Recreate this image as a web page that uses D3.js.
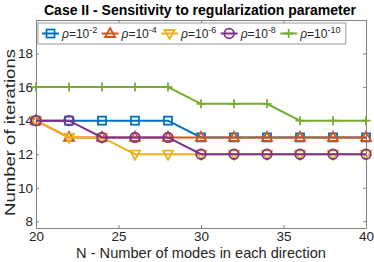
<!DOCTYPE html>
<html>
<head>
<meta charset="utf-8">
<script src="https://cdn.jsdelivr.net/npm/d3@7"></script>
<style>
  body { margin: 0; background: #fff; }
  text { font-family: "Liberation Sans", Arial, sans-serif; }
</style>
</head>
<body>
<div id="chart"></div>
<script>
// N values along the x axis
var modes = [20, 22, 24, 26, 28, 30, 32, 34, 36, 38, 40];

var rho2  = [14, 14, 14, 14, 14, 13, 13, 13, 13, 13, 13];
var rho4  = [14, 13, 13, 13, 13, 13, 13, 13, 13, 13, 13];
var rho6  = [14, 13, 13, 12, 12, 12, 12, 12, 12, 12, 12];
var rho8  = [14, 14, 13, 13, 13, 12, 12, 12, 12, 12, 12];
var rho10 = [16, 16, 16, 16, 16, 15, 15, 15, 14, 14, 14];

var exponents = ["-2", "-4", "-6", "-8", "-10"];
var xTicks = [20, 25, 30, 35, 40];
var yTicks = [8, 10, 12, 14, 16, 18];

var series = [
  { exp: exponents[0], values: rho2,  color: "#0072BD", marker: "square" },
  { exp: exponents[1], values: rho4,  color: "#D95319", marker: "triangleUp" },
  { exp: exponents[2], values: rho6,  color: "#EDB120", marker: "triangleDown" },
  { exp: exponents[3], values: rho8,  color: "#7E2F8E", marker: "circle" },
  { exp: exponents[4], values: rho10, color: "#77AC30", marker: "plus" }
];

var width = 374, height = 262;
var margin = { top: 20, right: 8, bottom: 34, left: 36 };
var w = width - margin.left - margin.right;
var h = height - margin.top - margin.bottom;

var svg = d3.select("#chart").append("svg")
  .attr("width", width)
  .attr("height", height);

var g = svg.append("g")
  .attr("transform", "translate(" + margin.left + "," + margin.top + ")");

var x = d3.scaleLinear().domain([20, 40]).range([0, w]);
var y = d3.scaleLinear().domain([7.6, 20]).range([h, 0]);

// title
svg.append("text")
  .attr("x", margin.left + w / 2 - 1)
  .attr("y", 15)
  .attr("text-anchor", "middle")
  .style("font-size", "14px")
  .style("font-weight", "bold")
  .style("fill", "#000")
  .text("Case II - Sensitivity to regularization parameter");

// axes (ticks inward, box on)
var axisColor = "#808080";
g.append("g")
  .attr("transform", "translate(0," + h + ")")
  .call(d3.axisBottom(x).tickValues(xTicks).tickSizeInner(-3).tickSizeOuter(0).tickPadding(3));
g.append("g")
  .call(d3.axisLeft(y).tickValues(yTicks).tickSizeInner(-3).tickSizeOuter(0).tickPadding(3));
g.append("g")
  .attr("transform", "translate(" + w + ",0)")
  .call(d3.axisRight(y).tickValues(yTicks).tickSizeInner(-3).tickSizeOuter(0).tickFormat(""));
g.append("g")
  .call(d3.axisTop(x).tickValues(xTicks).tickSizeInner(-3).tickSizeOuter(0).tickFormat(""));

g.selectAll(".domain").attr("stroke", axisColor);
g.selectAll(".tick line").attr("stroke", axisColor);
g.selectAll(".tick text")
  .style("font-size", "13.5px")
  .style("font-family", "Liberation Sans, Arial, sans-serif")
  .attr("fill", "#262626");

// axis labels
svg.append("text")
  .attr("x", 201)
  .attr("y", 258)
  .attr("text-anchor", "middle")
  .style("font-size", "14.6px")
  .style("fill", "#262626")
  .text("N - Number of modes in each direction");

svg.append("text")
  .attr("transform", "translate(15,132.5) rotate(-90)")
  .attr("text-anchor", "middle")
  .attr("textLength", 167)
  .attr("lengthAdjust", "spacingAndGlyphs")
  .style("font-size", "15px")
  .style("fill", "#262626")
  .text("Number of iterations");

// lines and markers
var line = d3.line()
  .x(function(d, i) { return x(modes[i]); })
  .y(function(d) { return y(d); });

function drawMarker(sel, type, color, cx, cy) {
  if (type == "square") {
    sel.append("rect").attr("x", cx - 4).attr("y", cy - 4).attr("width", 8).attr("height", 8)
      .attr("fill", "none").attr("stroke", color).attr("stroke-width", 1.8);
  } else if (type == "circle") {
    sel.append("circle").attr("cx", cx).attr("cy", cy).attr("r", 4.8)
      .attr("fill", "none").attr("stroke", color).attr("stroke-width", 1.8);
  } else if (type == "triangleUp") {
    sel.append("path")
      .attr("d", "M" + cx + "," + (cy - 5.5) + "L" + (cx + 5) + "," + (cy + 3.5) + "L" + (cx - 5) + "," + (cy + 3.5) + "Z")
      .attr("fill", "none").attr("stroke", color).attr("stroke-width", 1.8);
  } else if (type == "triangleDown") {
    sel.append("path")
      .attr("d", "M" + cx + "," + (cy + 5.5) + "L" + (cx + 5) + "," + (cy - 3.5) + "L" + (cx - 5) + "," + (cy - 3.5) + "Z")
      .attr("fill", "none").attr("stroke", color).attr("stroke-width", 1.8);
  } else if (type == "plus") {
    sel.append("path")
      .attr("d", "M" + (cx - 4.5) + "," + cy + "H" + (cx + 4.5) + "M" + cx + "," + (cy - 4.5) + "V" + (cy + 4.5))
      .attr("fill", "none").attr("stroke", color).attr("stroke-width", 1.8);
  }
}

series.forEach(function(s) {
  var sg = g.append("g");
  sg.append("path")
    .datum(s.values)
    .attr("d", line)
    .attr("fill", "none")
    .attr("stroke", s.color)
    .attr("stroke-width", 2);
  s.values.forEach(function(v, i) {
    drawMarker(sg, s.marker, s.color, x(modes[i]), y(v));
  });
});

// legend
var legend = svg.append("g");
var legendBox = legend.append("rect")
  .attr("x", 38).attr("y", 23).attr("height", 21)
  .attr("fill", "#fff").attr("stroke", "#999").attr("stroke-width", 1);

var lx = 42;
series.forEach(function(s) {
  var eg = legend.append("g");
  eg.append("line").attr("x1", lx).attr("x2", lx + 17).attr("y1", 33.5).attr("y2", 33.5)
    .attr("stroke", s.color).attr("stroke-width", 2);
  drawMarker(eg, s.marker, s.color, lx + 8.5, 33.5);
  var t = eg.append("text").attr("x", lx + 20).attr("y", 38)
    .style("font-size", "12px").style("fill", "#262626");
  t.append("tspan").style("font-style", "italic").text("\u03c1");
  t.append("tspan").text("=10");
  t.append("tspan").attr("dy", -5).style("font-size", "9px").text(s.exp);
  lx = lx + 20 + t.node().getComputedTextLength() + 4.3;
});
legendBox.attr("width", lx - 38 + 1);
</script>
</body>
</html>
